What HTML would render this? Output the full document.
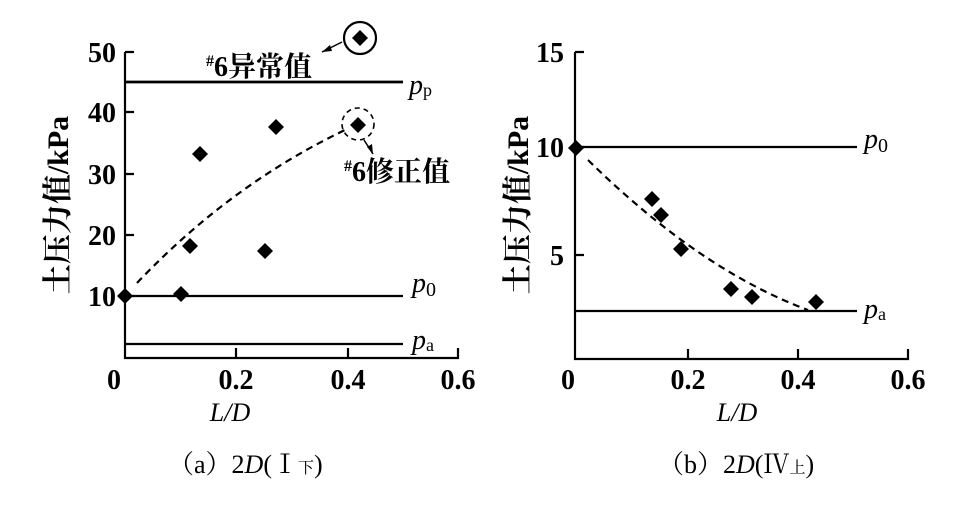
<!DOCTYPE html>
<html><head><meta charset="utf-8"><style>
body{margin:0;background:#fff;}
svg{display:block;font-family:"Liberation Serif","Noto Serif CJK SC",serif;}
.t{font-size:28px;font-weight:bold;}
</style></head><body>
<svg width="959" height="506" viewBox="0 0 959 506" xmlns="http://www.w3.org/2000/svg">
<defs><path id="d" d="M0,-8 L8,0 L0,8 L-8,0Z" fill="#000"/></defs>
<g stroke="#000" stroke-width="2.2" fill="none">
<path d="M125,52 H134 M125,52 V358 H458 V348"/>
<path d="M125,112 H134 M125,174 H134 M125,235 H134 M125,296 H134"/>
<path d="M236,358 V348 M348,358 V348"/>
<path d="M125,82 H403" stroke-width="2.8"/>
<path d="M125,296 H403 M125,344 H403"/>
<path d="M137,283 Q230,185 345,130" stroke-dasharray="7,5"/>
<circle cx="360" cy="38" r="16"/>
<circle cx="358" cy="124" r="16" stroke-dasharray="5,4" stroke-width="1.6"/>
<path d="M342,42 L322,52" stroke-width="1.5"/>
<path d="M364,140 L373,154" stroke-width="1.5"/>
<path d="M575,52 H584 M575,52 V359 H908 V349"/>
<path d="M575,147 H584 M575,255 H584 M688,359 V349 M798,359 V349"/>
<path d="M575,147 H857 M575,311 H857"/>
<path d="M588,160 Q700,270 808,310" stroke-dasharray="7,5"/>
</g>
<path d="M322,52 l8,-7 l2,6z M373,154 l-1,-10 l-5,3z" fill="#000"/>
<g>
<use href="#d" x="125" y="296"/><use href="#d" x="181" y="294"/><use href="#d" x="190" y="246"/>
<use href="#d" x="200" y="154"/><use href="#d" x="276" y="127"/><use href="#d" x="265" y="251"/>
<use href="#d" x="360" y="38"/><use href="#d" x="358" y="125"/>
<use href="#d" x="576" y="148"/><use href="#d" x="652" y="199"/><use href="#d" x="661" y="215"/>
<use href="#d" x="681" y="249"/><use href="#d" x="731" y="289"/><use href="#d" x="752" y="297"/>
<use href="#d" x="816" y="302"/>
</g>
<g class="t" text-anchor="end">
<text x="116" y="62">50</text><text x="116" y="122">40</text><text x="116" y="184">30</text>
<text x="116" y="245">20</text><text x="116" y="306">10</text>
<text x="564" y="62">15</text><text x="564" y="157">10</text><text x="564" y="265">5</text>
</g>
<g class="t" text-anchor="middle">
<text x="114" y="389">0</text><text x="236" y="389">0.2</text><text x="348" y="389">0.4</text><text x="458" y="389">0.6</text>
<text x="568" y="389">0</text><text x="688" y="389">0.2</text><text x="798" y="389">0.4</text><text x="908" y="389">0.6</text>
</g>
<g font-size="26" font-style="italic" text-anchor="middle">
<text x="230" y="421">L/D</text><text x="737" y="421">L/D</text>
</g>
<g font-size="28" font-style="italic">
<text x="409" y="94">p<tspan font-size="18" font-style="normal" dy="2">p</tspan></text>
<text x="412" y="292">p<tspan font-size="20" font-style="normal" dy="4">0</tspan></text>
<text x="412" y="349">p<tspan font-size="18" font-style="normal" dy="2">a</tspan></text>
<text x="864" y="148">p<tspan font-size="20" font-style="normal" dy="4">0</tspan></text>
<text x="864" y="318">p<tspan font-size="18" font-style="normal" dy="2">a</tspan></text>
</g>
<g font-weight="bold" font-size="28">
<text x="206" y="76"><tspan font-size="16" dy="-10">#</tspan><tspan dy="10">6异常值</tspan></text>
<text x="344" y="181"><tspan font-size="16" dy="-10">#</tspan><tspan dy="10">6修正值</tspan></text>
</g>
<text class="t" font-size="30" transform="translate(68,205) rotate(-90)" text-anchor="middle" style="font-size:30px">土压力值/kPa</text>
<text class="t" transform="translate(528,205) rotate(-90)" text-anchor="middle" style="font-size:30px">土压力值/kPa</text>
<g font-size="26">
<text x="168" y="473">（a）2<tspan font-style="italic">D</tspan>(Ⅰ<tspan font-size="16">下</tspan>)</text>
<text x="658" y="473">（b）2<tspan font-style="italic">D</tspan>(Ⅳ<tspan font-size="16">上</tspan>)</text>
</g>
</svg>
</body></html>
